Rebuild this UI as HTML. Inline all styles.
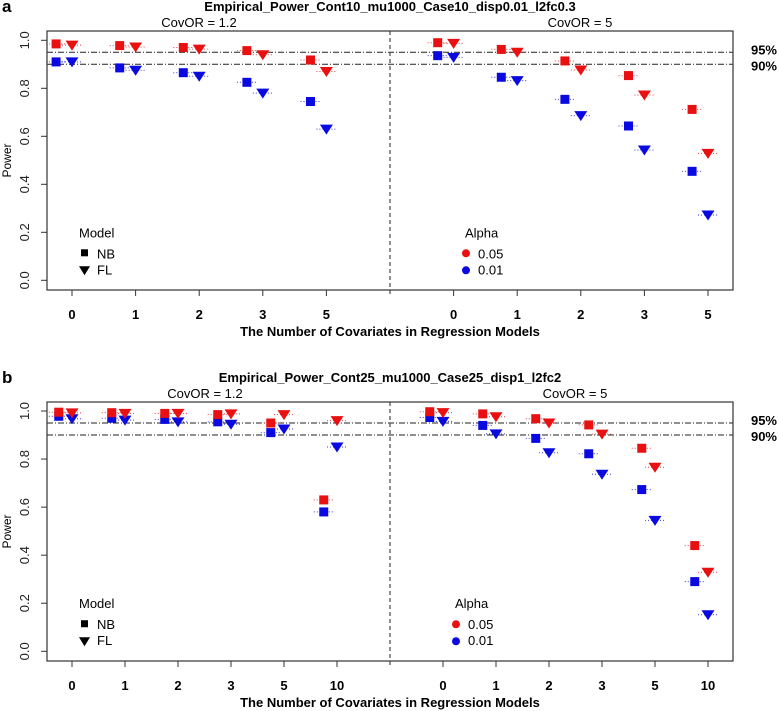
<!DOCTYPE html>
<html><head><meta charset="utf-8"><style>
body{margin:0;background:#fff}
svg{display:block;font-family:"Liberation Sans",Arial,sans-serif}
</style></head><body>
<svg id="fig" width="778" height="711" viewBox="0 0 778 711" xmlns="http://www.w3.org/2000/svg"></svg>
<script>
// ---- Panel a data ----
const catsA = ["0","1","2","3","5"];
const aLeftNB05 = [0.985,0.978,0.970,0.957,0.918];
const aLeftFL05 = [0.980,0.972,0.963,0.940,0.870];
const aLeftNB01 = [0.910,0.885,0.865,0.825,0.745];
const aLeftFL01 = [0.910,0.875,0.850,0.780,0.630];
const aRightNB05 = [0.990,0.962,0.914,0.853,0.712];
const aRightFL05 = [0.987,0.950,0.876,0.772,0.529];
const aRightNB01 = [0.936,0.846,0.754,0.643,0.454];
const aRightFL01 = [0.929,0.832,0.686,0.543,0.272];
// ---- Panel b data ----
const catsB = ["0","1","2","3","5","10"];
const bLeftNB05 = [0.995,0.993,0.990,0.985,0.950,0.630];
const bLeftFL05 = [0.992,0.990,0.990,0.988,0.985,0.960];
const bLeftNB01 = [0.978,0.970,0.965,0.955,0.910,0.580];
const bLeftFL01 = [0.968,0.962,0.955,0.945,0.925,0.850];
const bRightNB05 = [0.997,0.988,0.968,0.942,0.845,0.440];
const bRightFL05 = [0.993,0.976,0.950,0.904,0.766,0.329];
const bRightNB01 = [0.973,0.940,0.886,0.822,0.673,0.290];
const bRightFL01 = [0.957,0.905,0.826,0.737,0.545,0.152];
const yTicks = [0,0.2,0.4,0.6,0.8,1.0];
const refLines = [0.95,0.90];
const refLabels = ["95%","90%"];

const NS="http://www.w3.org/2000/svg";
const svg=document.getElementById('fig');
function mk(tag,attrs,parent){const e=document.createElementNS(NS,tag);for(const k in attrs)e.setAttribute(k,attrs[k]);(parent||svg).appendChild(e);return e;}
function txt(s,attrs,parent){const e=mk('text',attrs,parent);e.textContent=s;return e;}

function panel(cfg){
  const g=mk('g',{});
  
  
  const n=cfg.cats.length;
  const X=k=>cfg.x0+cfg.dx*k;
  const Y=v=>cfg.y0-(cfg.y0-cfg.y1)*v;
  const L=cfg.left,R=cfg.right,T=cfg.top,B=cfg.bottom;
  const pl=txt(cfg.letter,{x:2,y:T-19,'font-size':17,'font-weight':'bold'},g);
  
  const t=txt(cfg.title,{x:390,y:T-20,'font-size':13,'font-weight':'bold','text-anchor':'middle'},g);
  
  const s1=txt("CovOR = 1.2",{x:cfg.sub1x,y:T-4,'font-size':13,'text-anchor':'middle'},g);
  
  const s2=txt("CovOR = 5",{x:cfg.sub2x,y:T-4,'font-size':13,'text-anchor':'middle'},g);
  
  refLines.forEach((v,i)=>{
    const l=mk('line',{x1:L,x2:R,y1:Y(v),y2:Y(v),stroke:'#222','stroke-width':1,'stroke-dasharray':'6,2,1,2'},g);
    
    const lt=txt(refLabels[i],{x:R+44,y:Y(v)+(i==0?2:6),'font-size':13,'font-weight':'bold','text-anchor':'end'},g);
    
  });
  const dv=mk('line',{x1:X(n),x2:X(n),y1:T,y2:B+6,stroke:'#555','stroke-width':1.3,'stroke-dasharray':'4,3'},g);
  
  yTicks.forEach(v=>{
    mk('line',{x1:L-6,x2:L,y1:Y(v),y2:Y(v),stroke:'#333'},g);
    const tl=txt(v.toFixed(1),{x:0,y:0,'font-size':13,'text-anchor':'middle',transform:`translate(${L-18},${Y(v)}) rotate(-90)`,fill:'#222'},g);
    
  });
  const yt=txt("Power",{x:0,y:0,'font-size':12,'text-anchor':'middle',transform:`translate(11,${(T+B)/2}) rotate(-90)`},g);
  
  const ks=[];for(let i=0;i<n;i++)ks.push(i);for(let i=0;i<n;i++)ks.push(n+1+i);
  ks.forEach((k,j)=>{
    mk('line',{x1:X(k),x2:X(k),y1:B,y2:B+6,stroke:'#333'},g);
    const xl=txt(cfg.cats[j%n],{x:X(k),y:B+29,'font-size':13,'font-weight':'bold','text-anchor':'middle'},g);
    
  });
  const xt=txt("The Number of Covariates in Regression Models",{x:390,y:B+46,'font-size':13,'font-weight':'bold','text-anchor':'middle'},g);
  
  const series=[
    [cfg.LNB01,0,'sq','#0a0ae0'],[cfg.LFL01,0,'tri','#0a0ae0'],[cfg.LNB05,0,'sq','#e81010'],[cfg.LFL05,0,'tri','#e81010'],
    [cfg.RNB01,n+1,'sq','#0a0ae0'],[cfg.RFL01,n+1,'tri','#0a0ae0'],[cfg.RNB05,n+1,'sq','#e81010'],[cfg.RFL05,n+1,'tri','#e81010']];
  series.forEach(([arr,off,shape,col])=>{
    arr.forEach((v,i)=>{
      const cx=X(off+i+(shape==='sq'?-0.25:0)), cy=Y(v);
      mk('line',{x1:cx-10,x2:cx+10,y1:cy,y2:cy,stroke:col,'stroke-width':1,'stroke-dasharray':'1,2',opacity:0.8},g);
      let m;
      if(shape==='sq') m=mk('rect',{x:cx-4.5,y:cy-4.5,width:9,height:9,fill:col},g);
      else m=mk('polygon',{points:`${cx-6.5},${cy-4.5} ${cx+6.5},${cy-4.5} ${cx},${cy+5.5}`,fill:col},g);
      
      
    });
  });
  const bx=mk('rect',{x:L,y:T,width:R-L,height:B-T,fill:'none',stroke:'#333','stroke-width':1.2},g);
  
  const ly=Y(0.2);
  const lg=mk('g',{},g);
  txt("Model",{x:79,y:ly+5,'font-size':13},lg);
  mk('rect',{x:81,y:ly+17,width:7,height:7,fill:'#000'},lg);
  txt("NB",{x:97,y:ly+26,'font-size':13},lg);
  mk('polygon',{points:`79,${ly+34} 90,${ly+34} 84.5,${ly+43}`,fill:'#000'},lg);
  txt("FL",{x:97,y:ly+42,'font-size':13},lg);
  const ag=mk('g',{},g);
  const ax=cfg.alphaX;
  txt("Alpha",{x:ax,y:ly+5,'font-size':13},ag);
  mk('circle',{cx:ax+1,cy:ly+21,r:4,fill:'#e81010'},ag);
  txt("0.05",{x:ax+13,y:ly+26,'font-size':13},ag);
  mk('circle',{cx:ax+1,cy:ly+38,r:4,fill:'#0a0ae0'},ag);
  txt("0.01",{x:ax+13,y:ly+42,'font-size':13},ag);
}

panel({name:'panel-a',letter:'a',title:'Empirical_Power_Cont10_mu1000_Case10_disp0.01_l2fc0.3',cats:catsA,
  x0:72,dx:63.6,y0:280.3,y1:40.3,left:47,right:733,top:31,bottom:290,sub1x:199,sub2x:580,alphaX:465,
  LNB05:aLeftNB05,LFL05:aLeftFL05,LNB01:aLeftNB01,LFL01:aLeftFL01,RNB05:aRightNB05,RFL05:aRightFL05,RNB01:aRightNB01,RFL01:aRightFL01});
panel({name:'panel-b',letter:'b',title:'Empirical_Power_Cont25_mu1000_Case25_disp1_l2fc2',cats:catsB,
  x0:72,dx:53,y0:651.3,y1:411,left:47,right:733,top:402,bottom:661,sub1x:205,sub2x:575,alphaX:455,
  LNB05:bLeftNB05,LFL05:bLeftFL05,LNB01:bLeftNB01,LFL01:bLeftFL01,RNB05:bRightNB05,RFL05:bRightFL05,RNB01:bRightNB01,RFL01:bRightFL01});
</script>
</body></html>
